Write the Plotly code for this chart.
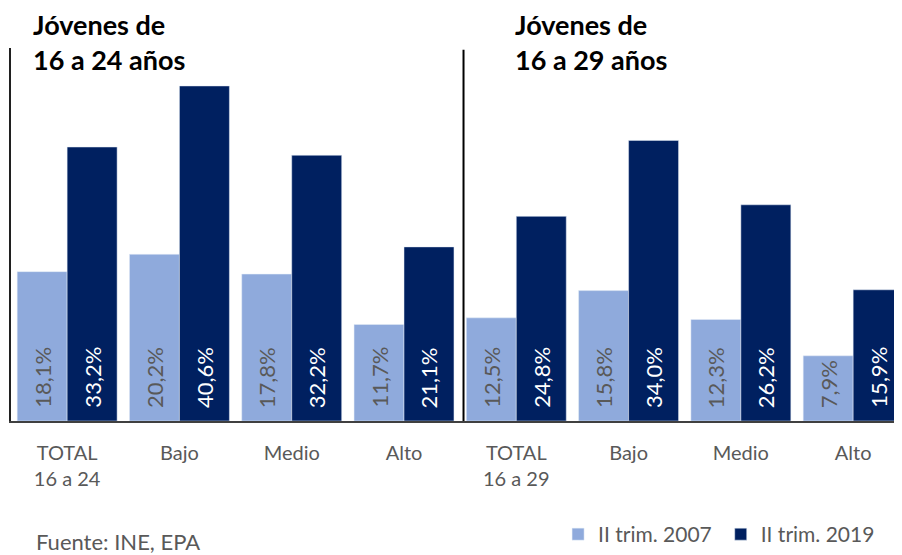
import plotly.graph_objects as go

categories = ["TOTAL<br>16 a 24", "Bajo", "Medio", "Alto", "TOTAL<br>16 a 29", "Bajo", "Medio", "Alto"]
series_2007 = [18.1, 20.2, 17.8, 11.7, 12.5, 15.8, 12.3, 7.9]
series_2019 = [33.2, 40.6, 32.2, 21.1, 24.8, 34.0, 26.2, 15.9]
series_names = ["II trim. 2007", "II trim. 2019"]
panel_titles = ["Jóvenes de<br>16 a 24 años", "Jóvenes de<br>16 a 29 años"]
source_text = "Fuente: INE, EPA"

LIGHT = "#8FAADC"
DARK = "#002060"
GRAY = "#595959"
FONT = "Lato, Carlito, Calibri, sans-serif"
BARGAP = 0.11

def fmt(v):
    return f"{v:.1f}".replace(".", ",") + "%"

xs = list(range(len(categories)))

fig = go.Figure()
fig.add_trace(go.Bar(x=xs, y=series_2007, name=series_names[0], marker_color=LIGHT,
                     hoverinfo="skip", legend="legend"))
fig.add_trace(go.Bar(x=xs, y=series_2019, name=series_names[1], marker_color=DARK,
                     hoverinfo="skip", legend="legend2"))

# value labels, rotated, near the bar base
half = (1 - BARGAP) / 4
for vals, off, col in [(series_2007, -half, GRAY), (series_2019, half, "white")]:
    for x, v in zip(xs, vals):
        fig.add_annotation(x=x + off, y=0, xref="x", yref="y", text=fmt(v), showarrow=False,
                           textangle=-90, xanchor="center", yanchor="bottom", yshift=11,
                           font=dict(size=22, color=col, family=FONT))

legend_common = dict(orientation="h", y=-0.305, yanchor="middle",
                     font=dict(size=21, color=GRAY, family=FONT),
                     itemwidth=30, bgcolor="rgba(0,0,0,0)")

fig.update_layout(
    width=894, height=547,
    margin=dict(l=3, r=0, t=40, b=134),
    paper_bgcolor="white", plot_bgcolor="white",
    barmode="group", bargap=BARGAP, bargroupgap=0,
    font=dict(family=FONT, color=GRAY, size=20),
    showlegend=True,
    legend=dict(x=0.614, xanchor="left", **legend_common),
    legend2=dict(x=0.975, xanchor="right", **legend_common),
)
fig.update_xaxes(
    range=[-0.5, 7.435], tickvals=xs, ticktext=categories,
    showgrid=False, zeroline=False, showline=True, linecolor="#404040", linewidth=1.5,
    ticks="", tickfont=dict(size=20, color=GRAY, family=FONT), automargin=False,
    ticklabelstandoff=13,
)
fig.update_yaxes(
    range=[0, 45.2], showgrid=False, zeroline=False, showticklabels=False,
    showline=True, linecolor="#202020", linewidth=2, ticks="", automargin=False,
)

# divider between panels
fig.add_shape(type="line", xref="x", yref="paper", x0=3.53, x1=3.53, y0=0, y1=0.995,
              line=dict(color="black", width=2))

for xp, t in zip([0.0225, 0.5635], panel_titles):
    fig.add_annotation(x=xp, y=1.112, xref="paper", yref="paper", text=t, showarrow=False,
                       xanchor="left", yanchor="top", align="left",
                       font=dict(size=27, color="black", family=FONT, weight="bold"))

fig.add_annotation(x=0.0258, y=-0.322, xref="paper", yref="paper", text=source_text,
                   showarrow=False, xanchor="left", yanchor="middle",
                   font=dict(size=22, color=GRAY, family=FONT))

fig.write_html("out.html")
